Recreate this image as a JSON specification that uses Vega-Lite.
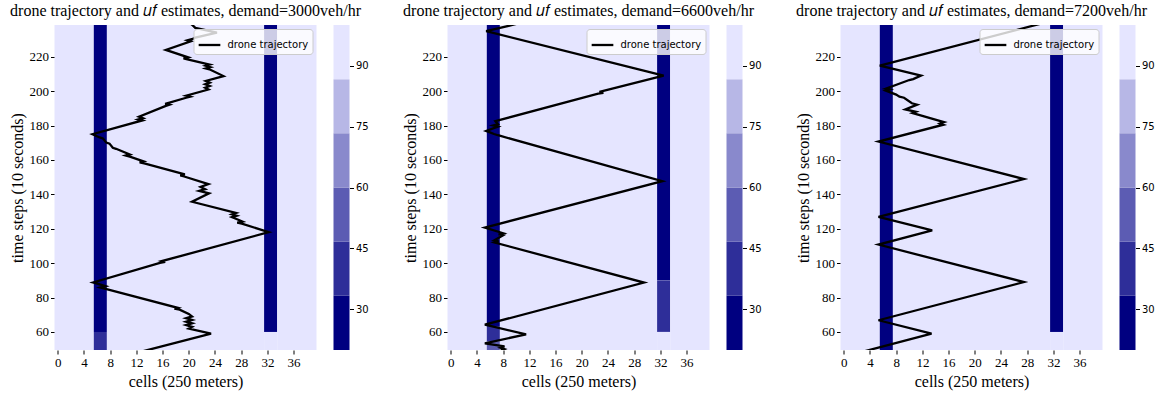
{
  "$schema": "https://vega.github.io/schema/vega-lite/v6.json",
  "padding": {"left": 8.5, "top": 3, "right": 5, "bottom": 5},
  "config": {
    "view": {"stroke": null},
    "axis": {"grid": false, "domain": false, "labelOverlap": false, "labelFont": "Liberation Serif", "labelFontSize": 13, "labelColor": "#000", "tickColor": "#000", "tickSize": 4, "labelPadding": 2, "titleFont": "Liberation Serif", "titleFontSize": 16, "titleFontWeight": "normal", "titleColor": "#000", "titlePadding": 4},
    "title": {"font": "Liberation Serif", "fontSize": 16, "fontWeight": "normal", "color": "#000", "frame": "group", "anchor": "middle", "offset": 6},
    "legend": {"orient": "top-right", "offset": 4, "symbolType": "stroke", "symbolSize": 470, "symbolStrokeWidth": 2.3, "labelFont": "DejaVu Sans", "labelFontSize": 10, "labelColor": "#000", "fillColor": "rgba(255,255,255,0.8)", "strokeColor": "#cccccc", "cornerRadius": 3, "padding": 4, "labelOffset": 6}
  },
  "datasets": {
    "cbar": [
      {"lo": 20, "hi": 33.33, "uf": 26.7},
      {"lo": 33.33, "hi": 46.67, "uf": 40},
      {"lo": 46.67, "hi": 60, "uf": 53.3},
      {"lo": 60, "hi": 73.33, "uf": 66.7},
      {"lo": 73.33, "hi": 86.67, "uf": 80},
      {"lo": 86.67, "hi": 100, "uf": 93.3}
    ],
    "hm1": [
      {"x0": -0.5, "x1": 5.5, "t0": 49.5, "t1": 238.5, "uf": 95},
      {"x0": 5.5, "x1": 7.5, "t0": 60, "t1": 238.5, "uf": 25},
      {"x0": 5.5, "x1": 7.5, "t0": 49.5, "t1": 60, "uf": 40},
      {"x0": 7.5, "x1": 31.5, "t0": 49.5, "t1": 238.5, "uf": 95},
      {"x0": 31.5, "x1": 33.5, "t0": 60, "t1": 238.5, "uf": 25},
      {"x0": 31.5, "x1": 33.5, "t0": 49.5, "t1": 60, "uf": 95},
      {"x0": 33.5, "x1": 39.5, "t0": 49.5, "t1": 238.5, "uf": 95}
    ],
    "hm2": [
      {"x0": -0.5, "x1": 5.5, "t0": 49.5, "t1": 238.5, "uf": 95},
      {"x0": 5.5, "x1": 7.5, "t0": 63.5, "t1": 238.5, "uf": 25},
      {"x0": 5.5, "x1": 7.5, "t0": 54.5, "t1": 63.5, "uf": 40},
      {"x0": 5.5, "x1": 7.5, "t0": 49.5, "t1": 54.5, "uf": 55},
      {"x0": 7.5, "x1": 31.5, "t0": 49.5, "t1": 238.5, "uf": 95},
      {"x0": 31.5, "x1": 33.5, "t0": 90, "t1": 238.5, "uf": 25},
      {"x0": 31.5, "x1": 33.5, "t0": 60, "t1": 90, "uf": 40},
      {"x0": 31.5, "x1": 33.5, "t0": 49.5, "t1": 60, "uf": 95},
      {"x0": 33.5, "x1": 39.5, "t0": 49.5, "t1": 238.5, "uf": 95}
    ],
    "hm3": [
      {"x0": -0.5, "x1": 5.5, "t0": 49.5, "t1": 238.5, "uf": 95},
      {"x0": 5.5, "x1": 7.5, "t0": 49.5, "t1": 238.5, "uf": 25},
      {"x0": 7.5, "x1": 31.5, "t0": 49.5, "t1": 238.5, "uf": 95},
      {"x0": 31.5, "x1": 33.5, "t0": 60, "t1": 238.5, "uf": 25},
      {"x0": 31.5, "x1": 33.5, "t0": 49.5, "t1": 60, "uf": 95},
      {"x0": 33.5, "x1": 39.5, "t0": 49.5, "t1": 238.5, "uf": 95}
    ],
    "tr1": [
      {"x": 12.2, "t": 48}, {"x": 23.4, "t": 59}, {"x": 20.0, "t": 62}, {"x": 20.5, "t": 63}, {"x": 19.6, "t": 64},
      {"x": 20.5, "t": 65}, {"x": 19.6, "t": 66}, {"x": 20.5, "t": 67}, {"x": 19.6, "t": 68}, {"x": 20.5, "t": 69},
      {"x": 20.0, "t": 70.5}, {"x": 18.6, "t": 73}, {"x": 17.8, "t": 73.5}, {"x": 18.3, "t": 74}, {"x": 7.3, "t": 85},
      {"x": 6.5, "t": 85.8}, {"x": 7.3, "t": 86.6}, {"x": 5.4, "t": 88.8}, {"x": 15.6, "t": 100.2}, {"x": 16.4, "t": 100.7},
      {"x": 15.9, "t": 101.2}, {"x": 32.2, "t": 118}, {"x": 28.1, "t": 123}, {"x": 27.4, "t": 123.6}, {"x": 28.2, "t": 124.2},
      {"x": 27.1, "t": 126}, {"x": 26.6, "t": 126.8}, {"x": 27.3, "t": 127.6}, {"x": 26.6, "t": 128.4}, {"x": 27.2, "t": 129.2},
      {"x": 20.5, "t": 135.7}, {"x": 23.1, "t": 140.6}, {"x": 21.6, "t": 142}, {"x": 22.5, "t": 143}, {"x": 21.8, "t": 144.3},
      {"x": 23.0, "t": 146}, {"x": 19.3, "t": 150.4}, {"x": 18.7, "t": 151}, {"x": 19.4, "t": 151.6}, {"x": 13.2, "t": 158},
      {"x": 12.5, "t": 158.6}, {"x": 13.1, "t": 159.2}, {"x": 11.0, "t": 162}, {"x": 10.4, "t": 162.6}, {"x": 11.0, "t": 163.2},
      {"x": 8.9, "t": 166.5}, {"x": 8.4, "t": 167.1}, {"x": 7.9, "t": 169.5}, {"x": 7.4, "t": 170.1}, {"x": 6.9, "t": 172.5},
      {"x": 6.4, "t": 173.1}, {"x": 5.3, "t": 175}, {"x": 12.9, "t": 183}, {"x": 12.3, "t": 183.6}, {"x": 13.0, "t": 184.3},
      {"x": 12.4, "t": 185.2}, {"x": 16.5, "t": 191.5}, {"x": 17.0, "t": 192.1}, {"x": 16.4, "t": 192.6}, {"x": 19.6, "t": 196.2},
      {"x": 20.2, "t": 196.8}, {"x": 19.6, "t": 197.4}, {"x": 23.0, "t": 201}, {"x": 22.5, "t": 202}, {"x": 23.2, "t": 203},
      {"x": 22.5, "t": 204}, {"x": 23.2, "t": 205}, {"x": 22.6, "t": 206}, {"x": 25.3, "t": 208.8}, {"x": 23.3, "t": 212.5},
      {"x": 22.6, "t": 213.2}, {"x": 23.3, "t": 214}, {"x": 22.6, "t": 214.8}, {"x": 23.2, "t": 215.5}, {"x": 19.8, "t": 218.5},
      {"x": 19.2, "t": 219.1}, {"x": 19.9, "t": 219.7}, {"x": 16.5, "t": 224}, {"x": 20.3, "t": 229}, {"x": 19.8, "t": 229.6},
      {"x": 20.6, "t": 230.4}, {"x": 21.0, "t": 231.2}, {"x": 24.3, "t": 234}, {"x": 21.0, "t": 236.8}, {"x": 20.5, "t": 238.7},
      {"x": 19.5, "t": 241}
    ],
    "tr2": [
      {"x": 7.0, "t": 48}, {"x": 8.2, "t": 50}, {"x": 7.6, "t": 50.8}, {"x": 8.2, "t": 51.6}, {"x": 5.2, "t": 53.4},
      {"x": 11.5, "t": 58.6}, {"x": 5.2, "t": 64.2}, {"x": 29.5, "t": 88.7}, {"x": 6.7, "t": 112}, {"x": 7.3, "t": 112.6},
      {"x": 6.6, "t": 113.2}, {"x": 8.0, "t": 116.2}, {"x": 7.3, "t": 116.8}, {"x": 8.0, "t": 117.4}, {"x": 5.2, "t": 120.7},
      {"x": 32.3, "t": 147.7}, {"x": 7.2, "t": 174.4}, {"x": 6.6, "t": 175.1}, {"x": 5.4, "t": 176.9}, {"x": 7.2, "t": 179.4},
      {"x": 6.5, "t": 180.1}, {"x": 7.2, "t": 180.8}, {"x": 6.8, "t": 182.6}, {"x": 22.5, "t": 198.6}, {"x": 23.3, "t": 199.1},
      {"x": 22.7, "t": 199.6}, {"x": 32.5, "t": 209.1}, {"x": 5.4, "t": 234.9}, {"x": 9.7, "t": 238.8}, {"x": 12.0, "t": 241.4}
    ],
    "tr3": [
      {"x": 2.0, "t": 47.6}, {"x": 13.4, "t": 59.0}, {"x": 5.3, "t": 66.8}, {"x": 27.5, "t": 89.0}, {"x": 5.3, "t": 110.8},
      {"x": 13.5, "t": 119.1}, {"x": 5.3, "t": 126.9}, {"x": 27.5, "t": 148.9}, {"x": 5.3, "t": 170.7}, {"x": 15.2, "t": 180.5},
      {"x": 14.7, "t": 181.2}, {"x": 15.3, "t": 182.0}, {"x": 11.2, "t": 186.5}, {"x": 10.5, "t": 187.3}, {"x": 11.0, "t": 188.0},
      {"x": 9.4, "t": 189.4}, {"x": 11.2, "t": 192.2}, {"x": 10.4, "t": 193.0}, {"x": 9.2, "t": 196.2}, {"x": 8.5, "t": 196.8},
      {"x": 8.0, "t": 198.0}, {"x": 6.4, "t": 200.3}, {"x": 7.0, "t": 201.0}, {"x": 6.4, "t": 201.5}, {"x": 10.0, "t": 206.5},
      {"x": 10.6, "t": 207.0}, {"x": 11.8, "t": 209.1}, {"x": 5.5, "t": 214.9}, {"x": 29.5, "t": 238.7}, {"x": 32.0, "t": 241.2}
    ]
  },
  "spacing": 33,
  "resolve": {"scale": {"color": "independent", "stroke": "independent"}, "legend": {"color": "independent", "stroke": "independent"}},
  "hconcat": [
    {
      "bounds": "flush",
      "spacing": 17,
      "resolve": {"scale": {"color": "independent", "stroke": "independent"}, "legend": {"color": "independent", "stroke": "independent"}},
      "hconcat": [
        {
          "width": 262, "height": 325,
          "title": {"text": "drone trajectory and 𝑢𝑓 estimates, demand=3000veh/hr"},
          "layer": [
            {
              "data": {"name": "hm1"},
              "mark": {"type": "rect"},
              "encoding": {
                "x": {"field": "x0", "type": "quantitative", "scale": {"domain": [-0.5, 39.5], "nice": false, "zero": false}, "axis": {"values": [0, 4, 8, 12, 16, 20, 24, 28, 32, 36], "labelOverlap": false, "labelFlush": false, "title": "cells (250 meters)"}},
                "x2": {"field": "x1"},
                "y": {"field": "t0", "type": "quantitative", "scale": {"domain": [49.5, 238.5], "nice": false, "zero": false}, "axis": {"values": [60, 80, 100, 120, 140, 160, 180, 200, 220], "labelOverlap": false, "title": "time steps (10 seconds)"}},
                "y2": {"field": "t1"},
                "color": {"field": "uf", "type": "quantitative", "scale": {"type": "quantize", "domain": [20, 100], "range": ["#000080", "#2e2e99", "#5c5cb3", "#8989cc", "#b7b7e6", "#e5e5ff"]}, "legend": null}
              }
            },
            {
              "data": {"name": "tr1"},
              "mark": {"type": "line", "clip": true, "strokeWidth": 2.3},
              "encoding": {
                "x": {"field": "x", "type": "quantitative", "axis": {"values": [0, 4, 8, 12, 16, 20, 24, 28, 32, 36], "labelOverlap": false, "labelFlush": false, "title": "cells (250 meters)"}},
                "y": {"field": "t", "type": "quantitative", "axis": {"values": [60, 80, 100, 120, 140, 160, 180, 200, 220], "labelOverlap": false, "title": "time steps (10 seconds)"}},
                "order": {"field": "t", "type": "quantitative"},
                "stroke": {"datum": "drone trajectory", "type": "nominal", "scale": {"range": ["#000000"]}, "legend": {"title": null}}
              }
            }
          ]
        },
        {
          "width": 16, "height": 325,
          "data": {"name": "cbar"},
          "mark": "rect",
          "encoding": {
            "y": {"field": "lo", "type": "quantitative", "scale": {"domain": [20, 100], "nice": false, "zero": false}, "axis": {"orient": "right", "values": [30, 45, 60, 75, 90], "labelOverlap": false, "title": null, "labelFont": "DejaVu Sans", "labelFontSize": 10}},
            "y2": {"field": "hi"},
            "color": {"field": "uf", "type": "quantitative", "scale": {"type": "quantize", "domain": [20, 100], "range": ["#000080", "#2e2e99", "#5c5cb3", "#8989cc", "#b7b7e6", "#e5e5ff"]}, "legend": null}
          }
        }
      ]
    },
    {
      "bounds": "flush",
      "spacing": 17,
      "resolve": {"scale": {"color": "independent", "stroke": "independent"}, "legend": {"color": "independent", "stroke": "independent"}},
      "hconcat": [
        {
          "width": 262, "height": 325,
          "title": {"text": "drone trajectory and 𝑢𝑓 estimates, demand=6600veh/hr"},
          "layer": [
            {
              "data": {"name": "hm2"},
              "mark": {"type": "rect"},
              "encoding": {
                "x": {"field": "x0", "type": "quantitative", "scale": {"domain": [-0.5, 39.5], "nice": false, "zero": false}, "axis": {"values": [0, 4, 8, 12, 16, 20, 24, 28, 32, 36], "labelOverlap": false, "labelFlush": false, "title": "cells (250 meters)"}},
                "x2": {"field": "x1"},
                "y": {"field": "t0", "type": "quantitative", "scale": {"domain": [49.5, 238.5], "nice": false, "zero": false}, "axis": {"values": [60, 80, 100, 120, 140, 160, 180, 200, 220], "labelOverlap": false, "title": "time steps (10 seconds)"}},
                "y2": {"field": "t1"},
                "color": {"field": "uf", "type": "quantitative", "scale": {"type": "quantize", "domain": [20, 100], "range": ["#000080", "#2e2e99", "#5c5cb3", "#8989cc", "#b7b7e6", "#e5e5ff"]}, "legend": null}
              }
            },
            {
              "data": {"name": "tr2"},
              "mark": {"type": "line", "clip": true, "strokeWidth": 2.3},
              "encoding": {
                "x": {"field": "x", "type": "quantitative", "axis": {"values": [0, 4, 8, 12, 16, 20, 24, 28, 32, 36], "labelOverlap": false, "labelFlush": false, "title": "cells (250 meters)"}},
                "y": {"field": "t", "type": "quantitative", "axis": {"values": [60, 80, 100, 120, 140, 160, 180, 200, 220], "labelOverlap": false, "title": "time steps (10 seconds)"}},
                "order": {"field": "t", "type": "quantitative"},
                "stroke": {"datum": "drone trajectory", "type": "nominal", "scale": {"range": ["#000000"]}, "legend": {"title": null}}
              }
            }
          ]
        },
        {
          "width": 16, "height": 325,
          "data": {"name": "cbar"},
          "mark": "rect",
          "encoding": {
            "y": {"field": "lo", "type": "quantitative", "scale": {"domain": [20, 100], "nice": false, "zero": false}, "axis": {"orient": "right", "values": [30, 45, 60, 75, 90], "labelOverlap": false, "title": null, "labelFont": "DejaVu Sans", "labelFontSize": 10}},
            "y2": {"field": "hi"},
            "color": {"field": "uf", "type": "quantitative", "scale": {"type": "quantize", "domain": [20, 100], "range": ["#000080", "#2e2e99", "#5c5cb3", "#8989cc", "#b7b7e6", "#e5e5ff"]}, "legend": null}
          }
        }
      ]
    },
    {
      "bounds": "flush",
      "spacing": 17,
      "resolve": {"scale": {"color": "independent", "stroke": "independent"}, "legend": {"color": "independent", "stroke": "independent"}},
      "hconcat": [
        {
          "width": 262, "height": 325,
          "title": {"text": "drone trajectory and 𝑢𝑓 estimates, demand=7200veh/hr"},
          "layer": [
            {
              "data": {"name": "hm3"},
              "mark": {"type": "rect"},
              "encoding": {
                "x": {"field": "x0", "type": "quantitative", "scale": {"domain": [-0.5, 39.5], "nice": false, "zero": false}, "axis": {"values": [0, 4, 8, 12, 16, 20, 24, 28, 32, 36], "labelOverlap": false, "labelFlush": false, "title": "cells (250 meters)"}},
                "x2": {"field": "x1"},
                "y": {"field": "t0", "type": "quantitative", "scale": {"domain": [49.5, 238.5], "nice": false, "zero": false}, "axis": {"values": [60, 80, 100, 120, 140, 160, 180, 200, 220], "labelOverlap": false, "title": "time steps (10 seconds)"}},
                "y2": {"field": "t1"},
                "color": {"field": "uf", "type": "quantitative", "scale": {"type": "quantize", "domain": [20, 100], "range": ["#000080", "#2e2e99", "#5c5cb3", "#8989cc", "#b7b7e6", "#e5e5ff"]}, "legend": null}
              }
            },
            {
              "data": {"name": "tr3"},
              "mark": {"type": "line", "clip": true, "strokeWidth": 2.3},
              "encoding": {
                "x": {"field": "x", "type": "quantitative", "axis": {"values": [0, 4, 8, 12, 16, 20, 24, 28, 32, 36], "labelOverlap": false, "labelFlush": false, "title": "cells (250 meters)"}},
                "y": {"field": "t", "type": "quantitative", "axis": {"values": [60, 80, 100, 120, 140, 160, 180, 200, 220], "labelOverlap": false, "title": "time steps (10 seconds)"}},
                "order": {"field": "t", "type": "quantitative"},
                "stroke": {"datum": "drone trajectory", "type": "nominal", "scale": {"range": ["#000000"]}, "legend": {"title": null}}
              }
            }
          ]
        },
        {
          "width": 16, "height": 325,
          "data": {"name": "cbar"},
          "mark": "rect",
          "encoding": {
            "y": {"field": "lo", "type": "quantitative", "scale": {"domain": [20, 100], "nice": false, "zero": false}, "axis": {"orient": "right", "values": [30, 45, 60, 75, 90], "labelOverlap": false, "title": null, "labelFont": "DejaVu Sans", "labelFontSize": 10}},
            "y2": {"field": "hi"},
            "color": {"field": "uf", "type": "quantitative", "scale": {"type": "quantize", "domain": [20, 100], "range": ["#000080", "#2e2e99", "#5c5cb3", "#8989cc", "#b7b7e6", "#e5e5ff"]}, "legend": null}
          }
        }
      ]
    }
  ]
}
